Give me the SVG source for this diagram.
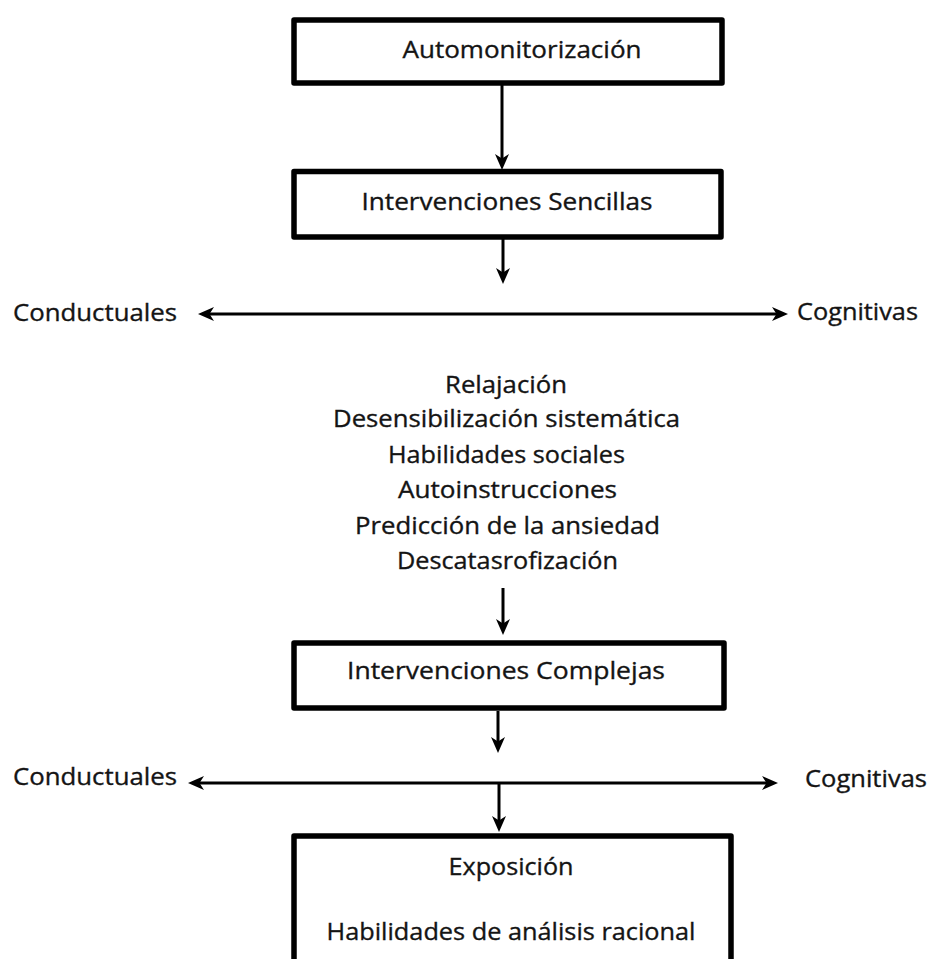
<svg xmlns="http://www.w3.org/2000/svg" width="930" height="959" viewBox="0 0 930 959">
<style>
.box{fill:#fff;stroke:#000;stroke-width:5.5;stroke-linejoin:round}
.t{font-family:"Open Sans","Liberation Sans",sans-serif;font-size:24.5px;fill:#141414;stroke:#141414;stroke-width:0.35;text-anchor:middle}
.tl{font-family:"Open Sans","Liberation Sans",sans-serif;font-size:24.5px;fill:#141414;stroke:#141414;stroke-width:0.35}
.c{stroke:#000;stroke-width:3;fill:none}
</style>
<defs>
<marker id="ah" markerUnits="userSpaceOnUse" viewBox="0 0 16 14" refX="11" refY="7" markerWidth="16" markerHeight="14" orient="auto-start-reverse">
<path d="M0,0 L16,7 L0,14 L4.5,7 Z" fill="#000"/>
</marker>
</defs>
<rect width="930" height="959" fill="#fff"/>
<g id="connectors">
<line class="c" x1="502" y1="85" x2="502" y2="165" marker-end="url(#ah)"/>
<line class="c" x1="503" y1="239" x2="503" y2="279" marker-end="url(#ah)"/>
<line class="c" x1="203" y1="314" x2="783" y2="314" marker-start="url(#ah)" marker-end="url(#ah)"/>
<line class="c" x1="503" y1="588" x2="503" y2="630" marker-end="url(#ah)"/>
<line class="c" x1="498" y1="711" x2="498" y2="748" marker-end="url(#ah)"/>
<line class="c" x1="193" y1="783" x2="773" y2="783" marker-start="url(#ah)" marker-end="url(#ah)"/>
<line class="c" x1="499" y1="783" x2="499" y2="827" marker-end="url(#ah)"/>
</g>
<g id="automonitorizacion">
<rect class="box" x="294" y="20" width="428" height="63"/>
<text class="t" x="522" y="58" textLength="239" lengthAdjust="spacingAndGlyphs">Automonitorización</text>
</g>
<g id="intervenciones-sencillas">
<rect class="box" x="294" y="171.5" width="427" height="65.5"/>
<text class="t" x="507" y="210" textLength="291" lengthAdjust="spacingAndGlyphs">Intervenciones Sencillas</text>
</g>
<g id="conductuales-1">
<text class="tl" x="13" y="321" textLength="164" lengthAdjust="spacingAndGlyphs">Conductuales</text>
</g>
<g id="cognitivas-1">
<text class="tl" x="797" y="320" textLength="121" lengthAdjust="spacingAndGlyphs">Cognitivas</text>
</g>
<g id="lista-sencillas">
<text class="t" x="506" y="393" textLength="122" lengthAdjust="spacingAndGlyphs">Relajación</text>
<text class="t" x="506.5" y="427" textLength="347" lengthAdjust="spacingAndGlyphs">Desensibilización sistemática</text>
<text class="t" x="506.5" y="463" textLength="237" lengthAdjust="spacingAndGlyphs">Habilidades sociales</text>
<text class="t" x="507.5" y="498" textLength="219" lengthAdjust="spacingAndGlyphs">Autoinstrucciones</text>
<text class="t" x="507.5" y="534" textLength="305" lengthAdjust="spacingAndGlyphs">Predicción de la ansiedad</text>
<text class="t" x="507.5" y="569" textLength="221" lengthAdjust="spacingAndGlyphs">Descatasrofización</text>
</g>
<g id="intervenciones-complejas">
<rect class="box" x="294" y="643" width="430" height="65"/>
<text class="t" x="506" y="679" textLength="318" lengthAdjust="spacingAndGlyphs">Intervenciones Complejas</text>
</g>
<g id="conductuales-2">
<text class="tl" x="13" y="785" textLength="164" lengthAdjust="spacingAndGlyphs">Conductuales</text>
</g>
<g id="cognitivas-2">
<text class="tl" x="805" y="787" textLength="122" lengthAdjust="spacingAndGlyphs">Cognitivas</text>
</g>
<g id="exposicion">
<rect class="box" x="294" y="836" width="437" height="140"/>
<text class="t" x="511" y="875" textLength="125" lengthAdjust="spacingAndGlyphs">Exposición</text>
<text class="t" x="511" y="940" textLength="369" lengthAdjust="spacingAndGlyphs">Habilidades de análisis racional</text>
</g>
</svg>
